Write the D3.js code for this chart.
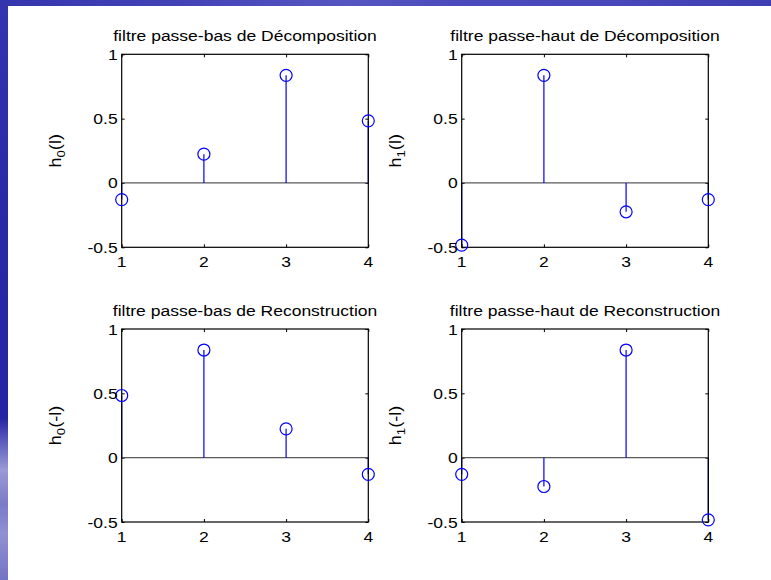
<!DOCTYPE html>
<html>
<head>
<meta charset="utf-8">
<script src="https://cdn.jsdelivr.net/npm/d3@7"></script>
<style>
  html, body { margin: 0; padding: 0; background: #fff; }
  svg { display: block; }
  text { font-family: "Liberation Sans", Arial, sans-serif; fill: #000; }
</style>
</head>
<body>
<svg id="fig" width="771" height="580"></svg>
<script>
// Daubechies (db2) filter coefficients, indexed 1..4
const lags = [1, 2, 3, 4];
const lowDec  = [-0.1294, 0.2241, 0.8365, 0.4830];
const highDec = [-0.4830, 0.8365, -0.2241, -0.1294];
const lowRec  = [0.4830, 0.8365, 0.2241, -0.1294];
const highRec = [-0.1294, -0.2241, 0.8365, -0.4830];

const xTicks = [1, 2, 3, 4];
const yTicks = [-0.5, 0, 0.5, 1];
const yTickLabels = ["-0.5", "0", "0.5", "1"];

const titles = [
  "filtre passe-bas de Décomposition",
  "filtre passe-haut de Décomposition",
  "filtre passe-bas de Reconstruction",
  "filtre passe-haut de Reconstruction"
];
// y labels: [base, subscript, suffix]
const yLabels = [
  ["h", "0", "(l)"],
  ["h", "1", "(l)"],
  ["h", "0", "(-l)"],
  ["h", "1", "(-l)"]
];
const series = [lowDec, highDec, lowRec, highRec];

// subplot layout
const axLeft = [121.7, 461.7, 121.7, 461.7];
const axTop = [54.3, 54.3, 329, 329];
const axW = 246.6, axH = 193;
const FS = 15.5, SX = 1.13;

const svg = d3.select("#fig");

// slide background frame
const defs = svg.append("defs");
const gl = defs.append("linearGradient").attr("id", "leftStrip")
  .attr("x1", 0).attr("y1", 0).attr("x2", 0).attr("y2", 1);
[[0, "#3434ae"], [0.35, "#2a2aa6"], [0.72, "#2424a4"], [0.76, "#5a5abc"],
 [0.81, "#9a9ad6"], [0.87, "#7a7ac8"], [0.92, "#9090d2"], [1, "#7474c6"]]
  .forEach(([o, c]) => gl.append("stop").attr("offset", o).attr("stop-color", c));
const gt = defs.append("linearGradient").attr("id", "topStrip")
  .attr("x1", 0).attr("y1", 0).attr("x2", 1).attr("y2", 0);
[[0, "#3434ae"], [0.25, "#4444b8"], [0.45, "#5656c2"], [0.6, "#4a4abc"],
 [0.8, "#4848ba"], [1, "#3e3eb4"]]
  .forEach(([o, c]) => gt.append("stop").attr("offset", o).attr("stop-color", c));
svg.append("rect").attr("x", 0).attr("y", 0).attr("width", 771).attr("height", 6)
  .attr("fill", "url(#topStrip)");
svg.append("rect").attr("x", 0).attr("y", 0).attr("width", 8).attr("height", 580)
  .attr("fill", "url(#leftStrip)");

function label(g, x, y, str, anchor, extra) {
  const t = g.append("text")
    .attr("transform", `translate(${x},${y}) scale(${SX},1)` + (extra || ""))
    .attr("text-anchor", anchor)
    .attr("font-size", FS)
    .text(str);
  return t;
}

series.forEach((vals, i) => {
  const x0 = axLeft[i], y0 = axTop[i];
  const x = d3.scaleLinear().domain([1, 4]).range([x0, x0 + axW]);
  const y = d3.scaleLinear().domain([-0.5, 1]).range([y0 + axH, y0]);
  const g = svg.append("g");

  // axes box with inward ticks on all sides
  const tl = 3;
  g.append("g").attr("transform", `translate(0,${y0 + axH})`)
    .call(d3.axisBottom(x).tickValues(xTicks).tickSize(-tl).tickFormat(""))
    .call(s => s.select(".domain").remove());
  g.append("g").attr("transform", `translate(0,${y0})`)
    .call(d3.axisTop(x).tickValues(xTicks).tickSize(-tl).tickFormat(""))
    .call(s => s.select(".domain").remove());
  g.append("g").attr("transform", `translate(${x0},0)`)
    .call(d3.axisLeft(y).tickValues(yTicks).tickSize(-tl).tickFormat(""))
    .call(s => s.select(".domain").remove());
  g.append("g").attr("transform", `translate(${x0 + axW},0)`)
    .call(d3.axisRight(y).tickValues(yTicks).tickSize(-tl).tickFormat(""))
    .call(s => s.select(".domain").remove());
  g.selectAll(".tick line").attr("stroke", "#000");

  // baseline at zero
  g.append("line")
    .attr("x1", x(1)).attr("x2", x(4)).attr("y1", y(0)).attr("y2", y(0))
    .attr("stroke", "#5a5a5a").attr("stroke-width", 1.2);

  // stems
  g.selectAll("line.stem").data(vals).join("line").attr("class", "stem")
    .attr("x1", (d, k) => x(lags[k])).attr("x2", (d, k) => x(lags[k]))
    .attr("y1", y(0)).attr("y2", d => y(d))
    .attr("stroke", "#0000ff").attr("stroke-width", 1.2);

  g.append("rect")
    .attr("x", x0).attr("y", y0).attr("width", axW).attr("height", axH)
    .attr("fill", "none").attr("stroke", "#000").attr("stroke-width", 1.2);

  // markers
  g.selectAll("circle").data(vals).join("circle")
    .attr("cx", (d, k) => x(lags[k])).attr("cy", d => y(d)).attr("r", 6)
    .attr("fill", "none").attr("stroke", "#0000ff").attr("stroke-width", 1.2);

  // tick labels
  yTicks.forEach((v, k) => label(g, x0 - 4, y(v) + 5.5, yTickLabels[k], "end"));
  xTicks.forEach(v => label(g, x(v), y0 + axH + 19.5, String(v), "middle"));

  // title
  label(g, x0 + axW / 2, y0 - 13.5, titles[i], "middle");

  // y label
  const yl = g.append("text")
    .attr("transform", `translate(${x0 - 60.5},${y0 + axH / 2}) rotate(-90) scale(${SX},1)`)
    .attr("text-anchor", "middle").attr("font-size", FS + 0.5);
  const [b, sub, suf] = yLabels[i];
  yl.append("tspan").text(b);
  yl.append("tspan").attr("font-size", FS * 0.75).attr("dy", 4).text(sub);
  yl.append("tspan").attr("dy", -4).text(suf);
});
</script>
</body>
</html>
